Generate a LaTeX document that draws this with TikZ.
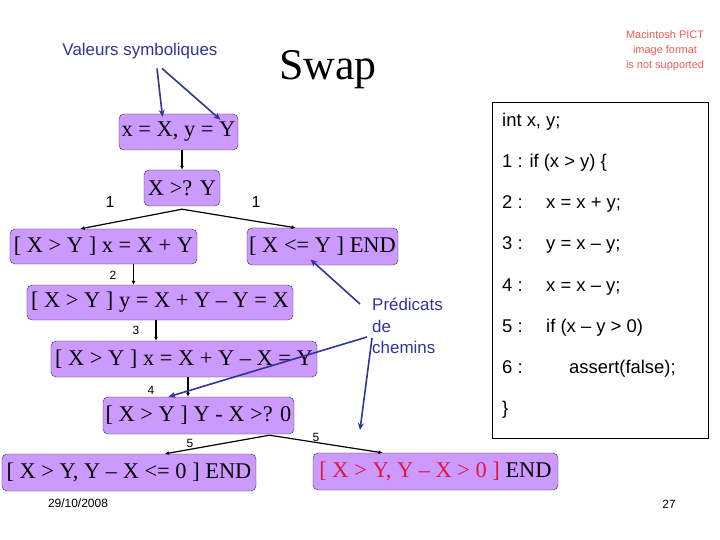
\documentclass[tikz,border=0pt]{standalone}
\usepackage{fontspec}
\setmainfont{Liberation Sans}
\newfontfamily\tms{Liberation Serif}
\usepackage{tikz}
\usetikzlibrary{arrows.meta,positioning,calc}

\definecolor{lilac}{RGB}{204,153,255}
\definecolor{note}{RGB}{51,51,153}
\definecolor{alert}{RGB}{225,20,60}
\definecolor{pict}{RGB}{238,90,90}

\begin{document}
\begin{tikzpicture}[
  x=1bp,y=-1bp,
  state/.style={draw=black!80,fill=lilac,rounded corners=5bp,inner sep=1bp,
    font=\tms\fontsize{22.5}{24}\selectfont},
  link/.style={-{Latex[length=4bp,width=4bp]},line width=1.2bp},
  hint/.style={-{Stealth[length=7bp,width=6bp]},note,line width=1.6bp},
  num/.style={font=\fontsize{12}{14}\selectfont},
  code/.style={anchor=base west,font=\fontsize{18.5}{20}\selectfont,inner sep=0pt},
]
  \useasboundingbox (0,0) rectangle (720,540);

  % title and remarks
  \node[font=\tms\fontsize{44}{48}\selectfont] (title) at (328,70) {Swap};
  \node[note,font=\fontsize{17}{19}\selectfont] (vals) at (140,51)
    {Valeurs symboliques};
  \node[pict,align=center,font=\fontsize{11}{15}\selectfont] (pictnote)
    at (665,51) {Macintosh PICT\\image format\\is not supported};

  % execution tree
  \node[state,minimum width=119bp,minimum height=36bp] (init) at (178.5,132)
    {x = X, y = Y};
  \node[state,minimum width=76bp,minimum height=36bp] (test1) at (182,188)
    {X >? Y};
  \node[state,minimum width=187bp,minimum height=35bp] (left1) at (103.5,246.5)
    {[ X > Y ] x = X + Y};
  \node[state,minimum width=151bp,minimum height=37bp] (right1) at (322.5,246.5)
    {[ X <= Y ] END};
  \node[state,minimum width=266bp,minimum height=35bp] (s2) at (160,302.5)
    {[ X > Y ] y = X + Y – Y = X};
  \node[state,minimum width=266bp,minimum height=36bp] (s3) at (184,359)
    {[ X > Y ] x = X + Y – X = Y};
  \node[state,minimum width=191bp,minimum height=37bp] (test2) at (198.5,415.5)
    {[ X > Y ] Y - X >? 0};
  \node[state,minimum width=254bp,minimum height=37bp] (endL) at (129,472.5)
    {[ X > Y, Y – X <= 0 ] END};
  \node[state,minimum width=245bp,minimum height=37bp] (endR) at (435.5,471.5)
    {\textcolor{alert}{[ X > Y, Y – X > 0 ]} END};

  \coordinate (fork1) at ([yshift=-3bp]test1.south);
  \coordinate (fork2) at ([xshift=71bp,yshift=-1bp]test2.south);

  \draw[link] (init.south -| test1.north) -- (test1.north);
  \draw[link] (fork1) -- ([xshift=-23bp]left1.north);
  \draw[link] (fork1) -- ([xshift=-27bp]right1.north);
  \draw[link] ([xshift=30bp]left1.south) -- ([xshift=30bp]left1.south |- s2.north);
  \draw[link] ([xshift=-4bp]s2.south) -- ([xshift=-4bp]s2.south |- s3.north);
  \draw[link] ([xshift=4bp]s3.south) -- ([xshift=4bp]s3.south |- test2.north);
  \draw[link] (fork2) -- ([xshift=36bp]endL.north);
  \draw[link] (fork2) -- ([xshift=-53bp]endR.north);

  % line numbers on the edges
  \node[font=\fontsize{16}{18}\selectfont] (n1a) at (110,202) {1};
  \node[font=\fontsize{16}{18}\selectfont] (n1b) at (256,202) {1};
  \node[num] (n2) at (113,275) {2};
  \node[num] (n3) at (136,330) {3};
  \node[num] (n4) at (151,390) {4};
  \node[num] (n5a) at (190,443) {5};
  \node[num] (n5b) at (316,437) {5};

  % path predicates
  \node[note,anchor=north west,align=left,inner sep=0pt,
    font=\fontsize{17}{21.5}\selectfont] (pred) at (372,298)
    {Prédicats\\de\\chemins};
  \coordinate (predtip) at (360,430);

  \draw[hint] ([xshift=17bp,yshift=-6bp]vals.south) -- ([xshift=-16bp,yshift=-3bp]init.north);
  \draw[hint] ([xshift=22bp,yshift=-6bp]vals.south) -- ([xshift=42bp,yshift=-6bp]init.north);
  \draw[hint] ([xshift=-12bp,yshift=-6bp]pred.north west) -- ([xshift=-12bp,yshift=-13bp]right1.center);
  \draw[hint] ([xshift=-5bp,yshift=-39bp]pred.north west) -- ([xshift=-30bp]test2.north);
  \draw[hint] ([xshift=0bp,yshift=-40bp]pred.north west) -- (predtip);

  % source code
  \node[draw,thick,minimum width=216bp,minimum height=336bp,inner sep=0pt] (code) at (600,270) {};
  \node[code] (c0) at (502,127) {int x, y;};
  \node[code] (c1) at (502,168) {1 : if (x > y) \{};
  \node[code] (c2) at (502,209) {2 :};
  \node[code] (c3) at (502,250) {3 :};
  \node[code] (c4) at (502,291) {4 :};
  \node[code] (c5) at (502,332) {5 :};
  \node[code] (c6) at (502,373) {6 :};
  \node[code] (c7) at (502,414) {\}};
  \node[code] (s2c) at (546,209) {x = x + y;};
  \node[code] (s3c) at (546,250) {y = x – y;};
  \node[code] (s4c) at (546,291) {x = x – y;};
  \node[code] (s5c) at (546,332) {if (x – y > 0)};
  \node[code] (s6c) at (569,373) {assert(false);};

  % footer
  \node[num] (date) at (78,503) {29/10/2008};
  \node[num] (page) at (669,504) {27};
\end{tikzpicture}
\end{document}
